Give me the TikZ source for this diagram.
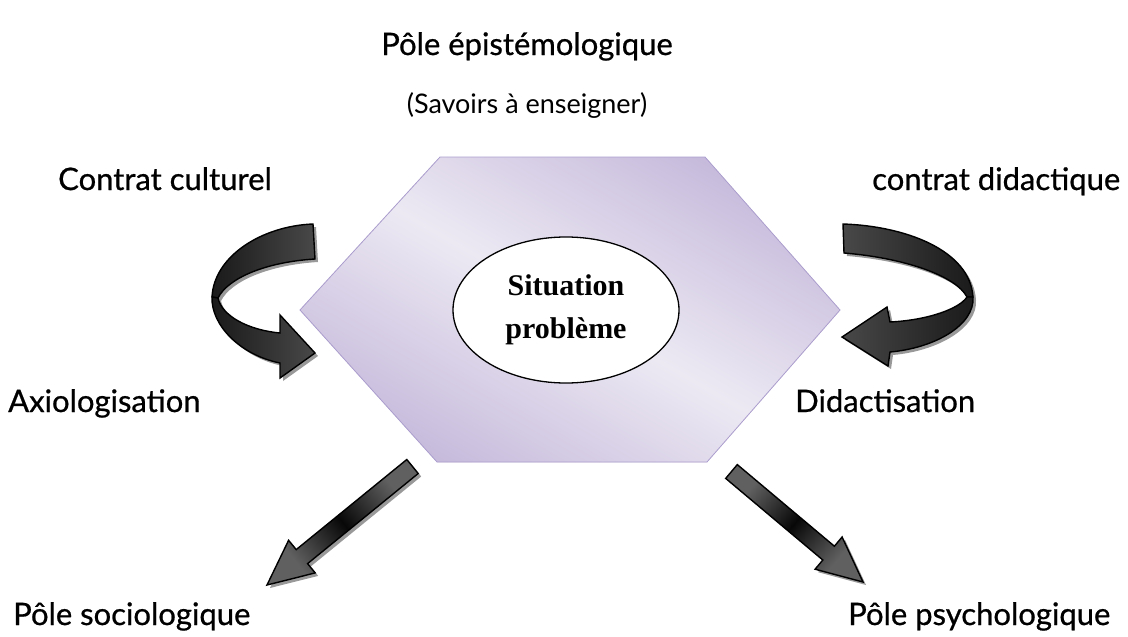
\documentclass[tikz,border=0pt]{standalone}
\usepackage{fontspec}
\setmainfont{Lato}
\newfontfamily\lblfont{Lato}[FakeBold=0.7]
\newfontfamily\boxfont{Liberation Serif}
\usetikzlibrary{shapes.geometric}

\definecolor{hexdark}{RGB}{180,163,208}
\definecolor{hexlight}{RGB}{236,233,243}
\definecolor{hexedge}{RGB}{172,158,206}
\definecolor{hexshadow}{RGB}{168,160,182}
\definecolor{arrowgray}{RGB}{96,96,96}
\definecolor{arrowdark}{RGB}{8,8,8}

\pgfdeclarehorizontalshading{hexshade}{100bp}{color(0bp)=(hexdark); color(12bp)=(hexdark); color(50bp)=(hexlight); color(88bp)=(hexdark); color(100bp)=(hexdark)}
\pgfdeclarehorizontalshading{arrowshade}{100bp}{color(0bp)=(arrowgray); color(28bp)=(arrowgray); color(50bp)=(arrowdark); color(72bp)=(arrowgray); color(100bp)=(arrowgray)}
\pgfdeclarehorizontalshading{bandshade}{100bp}{color(0bp)=(arrowdark); color(35bp)=(arrowdark!70!arrowgray); color(100bp)=(arrowgray)}

\begin{document}
\begin{tikzpicture}[x=1pt,y=-1pt,
  lbl/.style={font=\lblfont\fontsize{31}{37}\selectfont, inner sep=0pt, anchor=base west},
  shadowcopy/.style={fill=black!40, draw=none, shift={(3,3)}},
  arrowbody/.style={draw=black, line width=1.4pt, line join=miter},
  % outlines of the block arrows
  leftback/.style={insert path={(313,224) .. controls (262,226) and (214,256) .. (212,297) -- (218,298) .. controls (228,278) and (266,262) .. (315,259) -- cycle}},
  leftfront/.style={insert path={(212,297) .. controls (211,325) and (240,355) .. (280,363) -- (280,378) -- (315,353) -- (280,315) -- (280,333) .. controls (248,330) and (222,316) .. (218,298) -- cycle}},
  rightback/.style={insert path={(843,224) .. controls (905,226) and (970,250) .. (973,297) -- (967,297) .. controls (956,276) and (905,258) .. (844,253) -- cycle}},
  rightfront/.style={insert path={(973,297) .. controls (975,325) and (935,348) .. (890,352) -- (888,366) -- (842,337) -- (887,307) -- (890,322) .. controls (930,320) and (960,308) .. (967,297) -- cycle}},
  downleft/.style={insert path={(406.8,459.5) -- (296.2,549.6) -- (288.6,540.3) -- (267,585) -- (315.2,572.9) -- (307.6,563.6) -- (418.2,473.5) -- cycle}},
  downright/.style={insert path={(737.3,464.6) -- (834.4,546.2) -- (842.1,537.0) -- (863,582) -- (815.1,569.2) -- (822.8,560.0) -- (725.7,478.4) -- cycle}}
]
\useasboundingbox (0,0) rectangle (1128,637);

% central hexagon
\coordinate (hL) at (300,310);
\coordinate (hTL) at (440,157);
\coordinate (hTR) at (705,157);
\coordinate (hR) at (840,310);
\coordinate (hBR) at (707,462);
\coordinate (hBL) at (437,462);
\fill[hexshadow, shift={(3,3)}] (hL) -- (hTL) -- (hTR) -- (hR) -- (hBR) -- (hBL) -- cycle;
\shadedraw[shading=hexshade, shading angle=60, draw=hexedge, line width=0.8pt] (hL) -- (hTL) -- (hTR) -- (hR) -- (hBR) -- (hBL) -- cycle;

% central ellipse
\node[draw, ellipse, fill=white, line width=1.3pt, minimum width=226pt, minimum height=146pt,
      inner sep=0pt, align=center, font=\boxfont\bfseries\fontsize{30}{43}\selectfont] (sp) at (566,310) {Situation\\problème};

% curved arrows
\fill[shadowcopy] [leftback];
\shadedraw[arrowbody, shading=bandshade] [leftback];
\fill[shadowcopy] [leftfront];
\shadedraw[arrowbody, shading=bandshade] [leftfront];

\fill[shadowcopy] [rightback];
\shadedraw[arrowbody, shading=bandshade, shading angle=180] [rightback];
\fill[shadowcopy] [rightfront];
\shadedraw[arrowbody, shading=bandshade, shading angle=180] [rightfront];

% straight arrows
\fill[shadowcopy] [downleft];
\shadedraw[arrowbody, shading=arrowshade, shading angle=39] [downleft];
\fill[shadowcopy] [downright];
\shadedraw[arrowbody, shading=arrowshade, shading angle=-40] [downright];

% labels
\node[lbl, anchor=base] (epi) at (527,55) {Pôle épistémologique};
\node[lbl, anchor=base, font=\fontsize{27}{32}\selectfont] (sav) at (527,113) {(Savoirs à enseigner)};
\node[lbl] (cc) at (58,190) {Contrat culturel};
\node[lbl] (cd) at (872,190) {contrat didactique};
\node[lbl] (ax) at (8,412) {Axiologisation};
\node[lbl] (di) at (795,412) {Didactisation};
\node[lbl] (ps) at (13,625) {Pôle sociologique};
\node[lbl] (pp) at (848,625) {Pôle psychologique};
\end{tikzpicture}
\end{document}
